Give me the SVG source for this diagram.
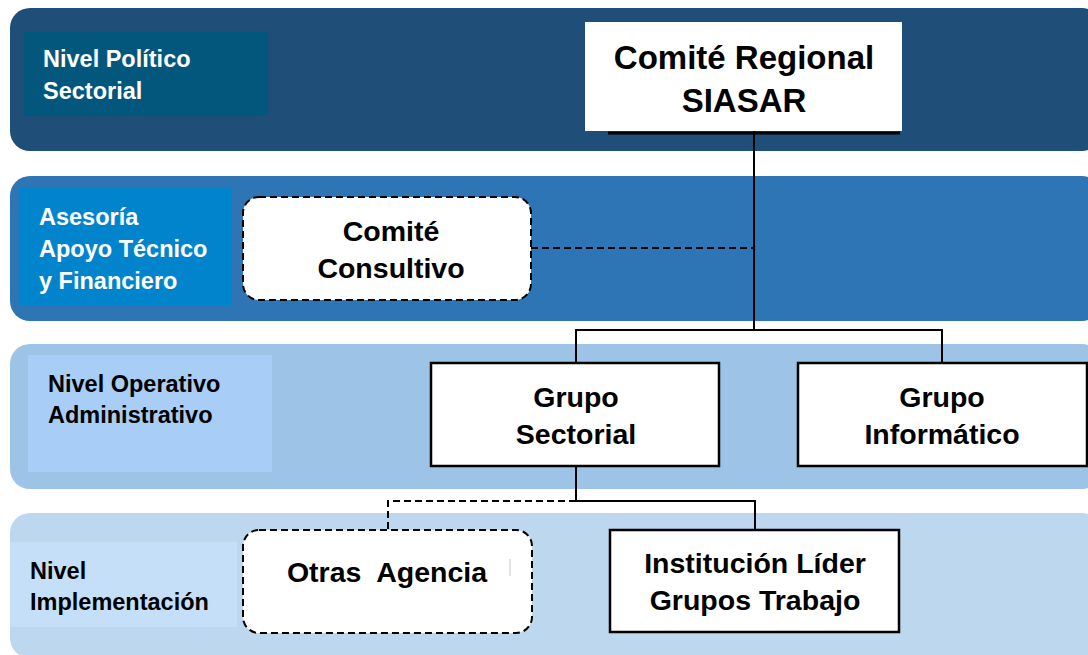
<svg xmlns="http://www.w3.org/2000/svg" width="1088" height="655" viewBox="0 0 1088 655">
<style>
.lbl{font-family:"Liberation Sans",Arial,sans-serif;font-weight:bold;font-size:23.5px}
.w{fill:#ffffff}
.k{fill:#000000}
.nt{font-family:"Liberation Sans",Arial,sans-serif;font-weight:bold;font-size:28.5px;fill:#000;text-anchor:middle}
.big{font-size:33px}
.box{fill:#ffffff;stroke:#000;stroke-width:2.5}
.dbox{fill:#ffffff;stroke:#000;stroke-width:2;stroke-dasharray:7,4}
.ln{fill:none;stroke:#000;stroke-width:2}
.dl{fill:none;stroke:#000;stroke-width:2;stroke-dasharray:7,4}
</style>
<rect width="1088" height="655" fill="#ffffff"/>
<g id="bands">
<rect x="10" y="8" width="1092" height="143" rx="20" fill="#1f4e79"/>
<rect x="10" y="176" width="1092" height="145" rx="20" fill="#2e75b6"/>
<rect x="10" y="344" width="1092" height="145" rx="20" fill="#9dc3e6"/>
<rect x="10" y="513" width="1092" height="145" rx="20" fill="#bdd7ee"/>
</g>
<g id="label-politico">
<rect x="24" y="32" width="244" height="84" fill="#03567c"/>
<text class="lbl w" x="43" y="67">Nivel Político</text>
<text class="lbl w" x="43" y="99">Sectorial</text>
</g>
<g id="label-asesoria">
<rect x="19" y="188" width="212" height="117" fill="#0284cd"/>
<text class="lbl w" x="39" y="225">Asesoría</text>
<text class="lbl w" x="39" y="257">Apoyo Técnico</text>
<text class="lbl w" x="39" y="289">y Financiero</text>
</g>
<g id="label-operativo">
<rect x="28" y="355" width="244" height="117" fill="#a8cdf6"/>
<text class="lbl k" x="48" y="392">Nivel Operativo</text>
<text class="lbl k" x="48" y="423">Administrativo</text>
</g>
<g id="label-implementacion">
<rect x="10" y="542" width="227" height="85" fill="#c5dff8"/>
<text class="lbl k" x="30" y="579">Nivel</text>
<text class="lbl k" x="30" y="610">Implementación</text>
</g>
<g id="connectors">
<polyline class="ln" points="754,131 754,330"/>
<polyline class="ln" points="576,363 576,330 942,330 942,363"/>
<polyline class="dl" points="531,248 754,248"/>
<polyline class="ln" points="576,467 576,501 755,501 755,530"/>
<polyline class="dl" points="576,501 388,501 388,530"/>
</g>
<g id="comite-regional">
<line x1="608" y1="133" x2="900" y2="133" stroke="#000" stroke-width="3"/>
<rect x="585" y="22" width="317" height="109" fill="#ffffff"/>
<text class="nt big" x="744" y="69">Comité Regional</text>
<text class="nt big" x="744" y="112">SIASAR</text>
</g>
<g id="comite-consultivo">
<rect class="dbox" x="243" y="197" width="288" height="103" rx="16"/>
<text class="nt" x="391" y="241">Comité</text>
<text class="nt" x="391" y="278">Consultivo</text>
</g>
<g id="grupo-sectorial">
<rect class="box" x="431" y="363" width="288" height="103"/>
<text class="nt" x="576" y="407">Grupo</text>
<text class="nt" x="576" y="444">Sectorial</text>
</g>
<g id="grupo-informatico">
<rect class="box" x="798" y="363" width="289" height="103"/>
<text class="nt" x="942" y="407">Grupo</text>
<text class="nt" x="942" y="444">Informático</text>
</g>
<g id="otras-agencia">
<rect class="dbox" x="243" y="530" width="289" height="103" rx="16"/>
<text class="nt" x="387" y="582" xml:space="preserve">Otras  Agencia</text>
<line x1="510" y1="559" x2="510" y2="576" stroke="#c8c8c8" stroke-width="1"/>
</g>
<g id="institucion-lider">
<rect class="box" x="610" y="530" width="289" height="102"/>
<text class="nt" x="755" y="573">Institución Líder</text>
<text class="nt" x="755" y="610">Grupos Trabajo</text>
</g>
</svg>
